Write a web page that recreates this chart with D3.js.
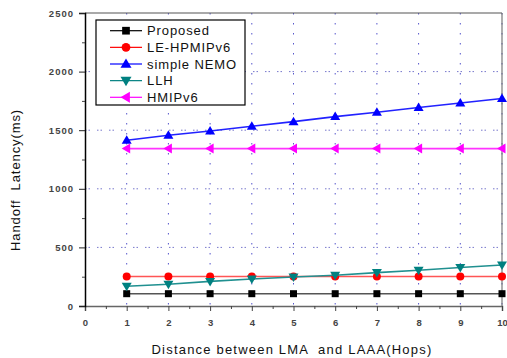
<!DOCTYPE html>
<html><head><meta charset="utf-8">
<script src="https://cdn.jsdelivr.net/npm/d3@7"></script>
<style>body{margin:0;background:#fff;}svg{display:block;font-family:"Liberation Sans",Arial,sans-serif;}</style>
</head><body><svg id="c" width="507" height="358"></svg>
<script>
const hops = [1,2,3,4,5,6,7,8,9,10];
const proposed = [105,105,105,105,105,105,105,105,105,105];
const leHpmipv6 = [252,252,252,252,252,252,252,252,252,252];
const simpleNemo = [1414,1457,1493,1534,1573,1616,1653,1693,1732,1770];
const llh = [168,185,210,230,247,262,285,305,328,350];
const hmipv6 = [1343,1343,1343,1343,1343,1343,1343,1343,1343,1343];
const xTicks = [0,1,2,3,4,5,6,7,8,9,10];
const yTicks = [0,500,1000,1500,2000,2500];
const seriesNames = ["Proposed","LE-HPMIPv6","simple NEMO","LLH","HMIPv6"];
const seriesColors = ["#000000","#ff0000","#0000ff","#008080","#ff00ff"];
const seriesLineColors = ["#555555","#ff5555","#2222ff","#209090","#ff33ff"];
const seriesSymbols = ["square","circle","triUp","triDown","triLeft"];
const seriesData = [proposed, leHpmipv6, simpleNemo, llh, hmipv6];

const svg = d3.select("#c");
const L=85, R=502, T=13, B=306;
const x = d3.scaleLinear().domain([0,10]).range([L,R]);
const y = d3.scaleLinear().domain([0,2500]).range([B,T]);

// grid
const g = svg.append("g");
g.selectAll(".vg").data(hops).enter().append("line")
  .attr("x1",d=>x(d)).attr("x2",d=>x(d)).attr("y1",T).attr("y2",B)
  .attr("stroke","#5555cc").attr("stroke-width",1).attr("stroke-dasharray","1.5,8.5");
g.selectAll(".hg").data([500,1000,1500,2000]).enter().append("line")
  .attr("x1",L).attr("x2",R).attr("y1",d=>y(d)).attr("y2",d=>y(d))
  .attr("stroke","#7777cc").attr("stroke-width",1).attr("stroke-dasharray","1.5,2,1.5,7");

// frame top/right
svg.append("line").attr("x1",L).attr("x2",R).attr("y1",T).attr("y2",T).attr("stroke","#555").attr("stroke-width",1.2);
svg.append("line").attr("x1",R).attr("x2",R).attr("y1",T).attr("y2",B).attr("stroke","#777").attr("stroke-width",1.2);

// axes
const xAxis = d3.axisBottom(x).tickValues(xTicks).tickSize(5).tickFormat(d3.format("d"));
const xa = svg.append("g").attr("transform",`translate(0,${B})`).call(xAxis);
xa.select(".domain").attr("stroke","#666").attr("stroke-width",1.5);
xa.selectAll(".tick line").attr("stroke","#444");
xa.selectAll("text").attr("font-size",9.5).attr("font-weight","bold").attr("fill","#444").attr("dy","1.25em");
svg.append("g").attr("transform",`translate(0,${B})`)
  .call(d3.axisBottom(x).tickValues(d3.range(0.5,10,1)).tickSize(3).tickFormat(""))
  .call(s=>{s.select(".domain").remove(); s.selectAll("line").attr("stroke","#444");});

const yAxis = d3.axisLeft(y).tickValues(yTicks).tickSize(6).tickFormat(d3.format("d"));
const ya = svg.append("g").attr("transform",`translate(${L},0)`).call(yAxis);
ya.select(".domain").attr("stroke","#000").attr("stroke-width",1.5);
ya.selectAll(".tick line").attr("stroke","#222");
ya.selectAll("text").attr("font-size",9.5).attr("font-weight","bold").attr("fill","#444").attr("letter-spacing","1px").attr("x",-11);
svg.append("g").attr("transform",`translate(${L},0)`)
  .call(d3.axisLeft(y).tickValues(d3.range(250,2500,500)).tickSize(3).tickFormat(""))
  .call(s=>{s.select(".domain").remove(); s.selectAll("line").attr("stroke","#444");});

// symbols
function sym(sel, type, color, cx, cy, s){
  if(type==="square") sel.append("rect").attr("x",cx-3.5*s).attr("y",cy-3.5*s).attr("width",7*s).attr("height",7*s).attr("fill",color);
  else if(type==="circle") sel.append("circle").attr("cx",cx).attr("cy",cy).attr("r",4*s).attr("fill",color);
  else if(type==="triUp") sel.append("path").attr("d",`M${cx},${cy-5*s}L${cx+5*s},${cy+3.5*s}L${cx-5*s},${cy+3.5*s}Z`).attr("fill",color);
  else if(type==="triDown") sel.append("path").attr("d",`M${cx},${cy+5*s}L${cx+5*s},${cy-3.5*s}L${cx-5*s},${cy-3.5*s}Z`).attr("fill",color);
  else if(type==="triLeft") sel.append("path").attr("d",`M${cx-5*s},${cy}L${cx+3.5*s},${cy-5*s}L${cx+3.5*s},${cy+5*s}Z`).attr("fill",color);
}

const line = d3.line().x((d,i)=>x(hops[i])).y(d=>y(d));
seriesData.forEach((vals,k)=>{
  const gs = svg.append("g");
  gs.append("path").datum(vals).attr("d",line).attr("fill","none")
    .attr("stroke",seriesLineColors[k]).attr("stroke-width",1.6);
  vals.forEach((v,i)=>sym(gs, seriesSymbols[k], seriesColors[k], x(hops[i]), y(v), 1));
});

// legend
const lg = svg.append("g");
lg.append("rect").attr("x",96).attr("y",20).attr("width",149).attr("height",85)
  .attr("fill","#fff").attr("stroke","#000").attr("stroke-width",1.2);
seriesNames.forEach((n,k)=>{
  const yy = 30.7 + k*16.65;
  lg.append("line").attr("x1",110).attr("x2",142).attr("y1",yy).attr("y2",yy).attr("stroke",seriesColors[k]).attr("stroke-width",1.2);
  sym(lg, seriesSymbols[k], seriesColors[k], 126, yy, 1.1);
  lg.append("text").attr("x",147).attr("y",yy+4.5).attr("font-size",13).attr("letter-spacing","0.9px").attr("fill","#111").text(n);
});

// axis titles
svg.append("text").attr("x",292).attr("y",354).attr("text-anchor","middle").attr("font-size",13)
  .attr("letter-spacing","1.2px").attr("fill","#111").attr("xml:space","preserve").text("Distance between LMA  and LAAA(Hops)");
svg.append("text").attr("transform","translate(20,180) rotate(-90)").attr("text-anchor","middle")
  .attr("font-size",13).attr("letter-spacing","0.9px").attr("fill","#111").attr("xml:space","preserve").text("Handoff  Latency(ms)");
</script></body></html>
